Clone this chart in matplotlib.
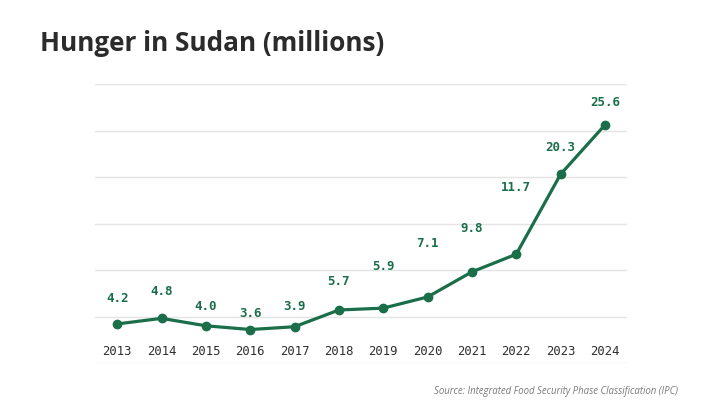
import matplotlib.pyplot as plt

years = ["2013", "2014", "2015", "2016", "2017", "2018",
         "2019", "2020", "2021", "2022", "2023", "2024"]
hunger = [4.2, 4.8, 4.0, 3.6, 3.9, 5.7, 5.9, 7.1, 9.8, 11.7, 20.3, 25.6]

# label offsets above each point (pixels), as placed in the original
label_offsets = [25, 27, 19, 16, 20, 28, 42, 53, 43, 67, 27, 22]

green = "#1a6e4a"

fig = plt.figure(figsize=(7.2, 4.04), dpi=100)
ax = fig.add_axes([0.132, 0.1015, 0.739, 0.6905])

x = list(range(len(years)))
ax.plot(x, hunger, color=green, lw=2.3, marker="o", ms=6, zorder=3)

for xi, v, off in zip(x, hunger, label_offsets):
    ax.annotate(f"{v:.1f}", (xi, v), xytext=(0, off), textcoords="offset pixels",
                ha="center", va="center", color=green, fontsize=9,
                family="DejaVu Sans Mono", fontweight="bold")

ax.set_xlim(-0.5, 11.5)
ax.set_ylim(0, 30)
ax.set_yticks([0, 5, 10, 15, 20, 25, 30])
ax.set_yticklabels([])
ax.set_xticks(x)
ax.set_xticklabels(years, family="DejaVu Sans Mono", fontsize=8.8, color="#2e2e2e")
ax.tick_params(axis="x", length=0, pad=-13)
ax.tick_params(axis="y", length=0)
ax.grid(axis="y", color="#e4e4e4", lw=1)
for s in ax.spines.values():
    s.set_visible(False)

fig.text(0.055, 0.893, "Hunger in Sudan (millions)", fontsize=18.8, fontweight="bold",
         family="Open Sans", color="#2b2b2b", va="center", ha="left")
fig.text(0.942, 0.032, "Source: Integrated Food Security Phase Classification (IPC)",
         fontsize=6.9, style="italic", family="Open Sans", color="#7a7a7a",
         ha="right", va="center")

fig.savefig("out.png", dpi=100)
